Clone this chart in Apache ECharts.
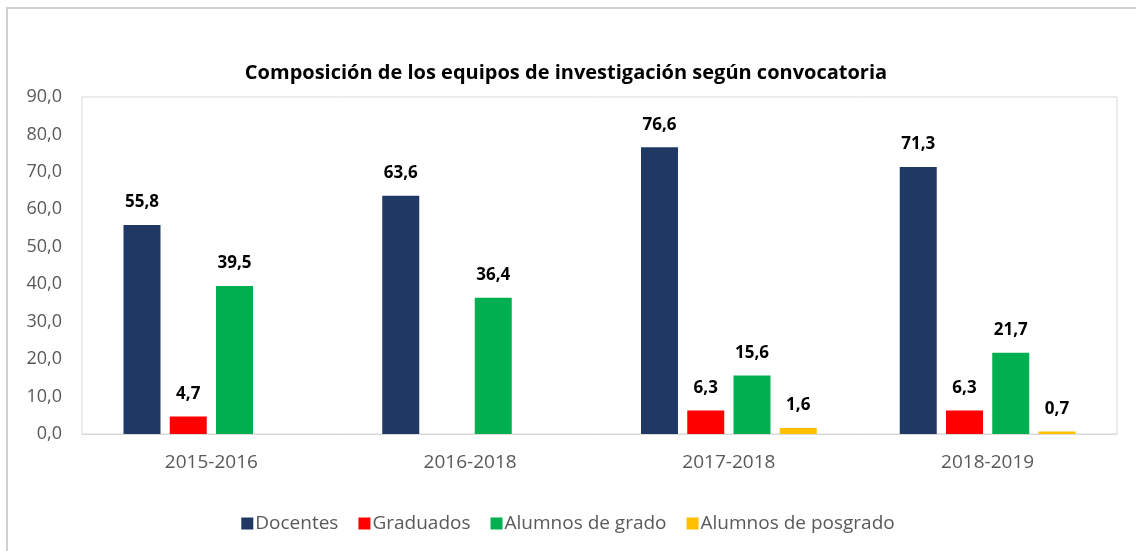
<!DOCTYPE html>
<html>
<head>
<meta charset="utf-8">
<script src="https://cdn.jsdelivr.net/npm/echarts@6/dist/echarts.min.js"></script>
<style>
html,body{margin:0;padding:0;background:#fff;}
#chart1{width:1136px;height:551px;}
</style>
</head>
<body>
<div id="chart1"></div>
<script>
var convocatorias=["2015-2016","2016-2018","2017-2018","2018-2019"];
var docentes=[55.8,63.6,76.6,71.3];
var graduados=[4.7,null,6.3,6.3];
var alumnosGrado=[39.5,36.4,15.6,21.7];
var alumnosPosgrado=[null,null,1.6,0.7];
var yTicks={min:0,max:90,interval:10};

var coma=function (v) {return v.toFixed(1).replace(".",",");};
var fuente="'Open Sans', Lato, sans-serif";

var etiqueta={
    show:true,
    position:"top",
    distance:14,
    color:"#000",
    fontWeight:"bold",
    fontSize:17,
    fontFamily:fuente,
    formatter:function (p) {return p.value==null?"":coma(p.value);}
};
var serie=function (nombre,datos,color) {
    return {
        name:nombre,
        type:"bar",
        barWidth:37,
        barGap:"25%",
        itemStyle:{color:color},
        label:etiqueta,
        data:datos
    };
};

var chart=echarts.init(document.getElementById("chart1"));
var option={
    animation:false,
    title:{
        text:"Composición de los equipos de investigación según convocatoria",
        left:561,
        top:58,
        textAlign:"center",
        textStyle:{fontSize:20,fontWeight:"bold",color:"#000",fontFamily:fuente}
    },
    graphic:[{
        type:"rect",
        shape:{x:7,y:8,width:1150,height:560},
        style:{fill:"none",stroke:"#d0d0d0",lineWidth:2},
        silent:true
    }],
    legend:{
        bottom:13,
        left:"center",
        itemWidth:12,
        itemHeight:12,
        itemGap:20,
        icon:"rect",
        textStyle:{fontSize:19,color:"#595959",fontFamily:fuente,padding:[0,0,0,-3]},
        data:["Docentes","Graduados","Alumnos de grado","Alumnos de posgrado"]
    },
    grid:{
        show:true,
        left:82,
        right:19,
        top:97,
        bottom:117,
        borderColor:"#d9d9d9",
        borderWidth:1
    },
    xAxis:{
        type:"category",
        data:convocatorias,
        axisTick:{show:false},
        axisLine:{lineStyle:{color:"#d9d9d9"}},
        axisLabel:{fontSize:19,color:"#595959",margin:19,fontFamily:fuente}
    },
    yAxis:{
        type:"value",
        min:yTicks.min,
        max:yTicks.max,
        interval:yTicks.interval,
        splitLine:{show:false},
        axisLine:{show:false},
        axisTick:{show:false},
        axisLabel:{fontSize:18,color:"#595959",margin:20,fontFamily:fuente,formatter:coma}
    },
    series:[
        serie("Docentes",docentes,"#1f3864"),
        serie("Graduados",graduados,"#ff0000"),
        serie("Alumnos de grado",alumnosGrado,"#00b050"),
        serie("Alumnos de posgrado",alumnosPosgrado,"#ffc000")
    ]
};
chart.setOption(option);
</script>
</body>
</html>
